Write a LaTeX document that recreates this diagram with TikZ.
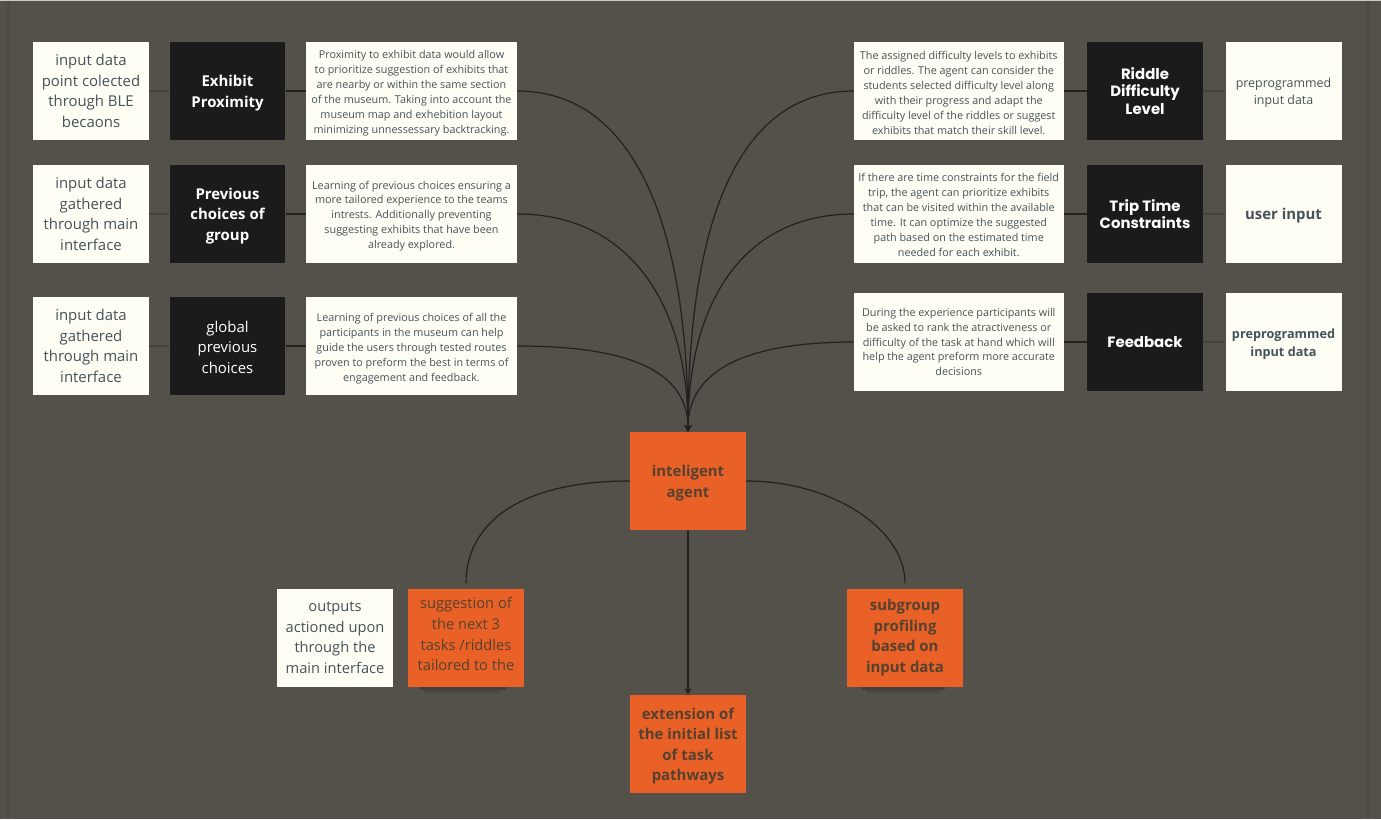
\documentclass[tikz,border=0pt]{standalone}
\usepackage{fontspec}
\setmainfont{Open Sans}
\newfontfamily\headfont{Poppins}
\usetikzlibrary{arrows.meta}
\definecolor{bgc}{HTML}{54504A}
\definecolor{bandc}{HTML}{4F4C46}
\definecolor{paper}{HTML}{FEFEF4}
\definecolor{inkc}{HTML}{45525A}
\definecolor{blackc}{HTML}{1B1B1B}
\definecolor{orangec}{HTML}{E96127}
\definecolor{orink}{HTML}{55412F}
\definecolor{linec}{HTML}{222120}
\definecolor{faintc}{HTML}{45433D}
\newlength{\pxu}\setlength{\pxu}{0.75pt}
\newcommand{\upby}[1]{\rule[-#1]{0pt}{0pt}}
\newcommand{\dnby}[1]{\rule{0pt}{#1}}
\tikzset{
  boxbase/.style={inner sep=0pt,align=center,anchor=center},
  inputbox/.style={boxbase,fill=paper,text=inkc,minimum width=116\pxu,minimum height=98\pxu,
     font=\fontsize{11.2pt}{15.4pt}\selectfont},
  catbox/.style={boxbase,fill=blackc,text=white,minimum width=115.5\pxu,minimum height=98\pxu,
     font=\fontsize{11.2pt}{15.6pt}\selectfont\bfseries},
  cathead/.style={catbox,font=\headfont\fontsize{11.2pt}{13pt}\selectfont\bfseries},
  catplain/.style={catbox,font=\fontsize{11.2pt}{15.4pt}\selectfont},
  descbox/.style={boxbase,fill=paper,text=inkc,minimum height=98\pxu,
     font=\fontsize{8.1pt}{11.15pt}\selectfont},
  orangebox/.style={boxbase,fill=orangec,text=orink,minimum width=116\pxu,minimum height=98\pxu,
     font=\fontsize{11.2pt}{15.4pt}\selectfont\bfseries},
  conn/.style={draw=linec,line width=0.9pt},
  faint/.style={draw=faintc,line width=0.9pt},
  arrowconn/.style={conn,-{Stealth[length=5pt,width=5.5pt]}},
}
\begin{document}
\begin{tikzpicture}[x=0.75pt,y=-0.75pt]
\useasboundingbox (0,0) rectangle (1381,819);
\fill[bgc] (0,0) rectangle (1381,819);
\fill[bandc] (7,0) rectangle (10,819);
\fill[bandc] (1366,0) rectangle (1370,819);
\fill[white!70!bgc] (0,0) rectangle (1381,1.2);
% shadows
\fill[bgc!80!black] (420,687) rectangle (506,690);
\fill[bgc!90!black] (424,690) rectangle (500,693);
\fill[bgc!80!black] (862,687) rectangle (945,690);
\fill[bgc!90!black] (866,690) rectangle (941,693);
% left column
\node[inputbox] (i1) at (91,91) {input data\\point colected\\through BLE\\becaons};
\node[inputbox] (i2) at (91,214) {input data\\gathered\\through main\\interface};
\node[inputbox] (i3) at (91,346) {input data\\gathered\\through main\\interface};
\node[catbox] (c1) at (227.5,91) {\dnby{11.5pt}Exhibit\\Proximity};
\node[catbox] (c2) at (227.5,214) {\dnby{11.5pt}Previous\\choices of\\group};
\node[catplain] (c3) at (227.5,346) {\dnby{10pt}global\\previous\\choices};
\node[descbox,minimum width=211\pxu] (d1) at (411.5,91) {\dnby{9.2pt}Proximity to exhibit data would allow\\to prioritize suggestion of exhibits that\\are nearby or within the same section\\of the museum. Taking into account the\\museum map and exhebition layout\\minimizing unnessessary backtracking.};
\node[descbox,minimum width=211\pxu] (d2) at (411.5,214) {\dnby{9.2pt}Learning of previous choices ensuring a\\more tailored experience to the teams\\intrests. Additionally preventing\\suggesting exhibits that have been\\already explored.};
\node[descbox,minimum width=211\pxu] (d3) at (411.5,346) {\dnby{10pt}Learning of previous choices of all the\\participants in the museum can help\\guide the users through tested routes\\proven to preform the best in terms of\\engagement and feedback.};
% right column
\node[descbox,minimum width=209.5\pxu] (d4) at (958.75,91) {\dnby{9.2pt}The assigned difficulty levels to exhibits\\or riddles. The agent can consider the\\students selected difficulty level along\\with their progress and adapt the\\difficulty level of the riddles or suggest\\exhibits that match their skill level.};
\node[descbox,minimum width=209.5\pxu] (d5) at (958.75,214) {\dnby{7.7pt}If there are time constraints for the field\\trip, the agent can prioritize exhibits\\that can be visited within the available\\time. It can optimize the suggested\\path based on the estimated time\\needed for each exhibit.};
\node[descbox,minimum width=209.5\pxu] (d6) at (958.75,342) {During the experience participants will\\be asked to rank the atractiveness or\\difficulty of the task at hand which will\\help the agent preform more accurate\\decisions};
\node[cathead] (c4) at (1145,91) {Riddle\\Difficulty\\Level};
\node[cathead] (c5) at (1145,214) {Trip Time\\Constraints};
\node[cathead] (c6) at (1145,342) {Feedback};
\node[inputbox,font=\fontsize{9.3pt}{13pt}\selectfont] (i4) at (1283.5,91) {\dnby{10pt}preprogrammed\\input data};
\node[inputbox,font=\fontsize{11.2pt}{15pt}\selectfont\bfseries] (i5) at (1283.5,214) {\dnby{10.5pt}user input};
\node[inputbox,font=\fontsize{9.5pt}{13.4pt}\selectfont\bfseries] (i6) at (1283.5,342) {\dnby{10.2pt}preprogrammed\\input data};
% centre
\node[orangebox] (agent) at (688,481) {\dnby{11.5pt}inteligent\\agent};
\node[inputbox,font=\fontsize{11pt}{15.4pt}\selectfont] (out) at (335,637.5) {outputs\\actioned upon\\through the\\main interface};
\node[orangebox,font=\fontsize{11pt}{15.4pt}\selectfont] (s1) at (466,637.5) {suggestion of\\the next 3\\tasks /riddles\\tailored to the\upby{5pt}};
\node[orangebox] (s2) at (688,744) {\dnby{11.5pt}extension of\\the initial list\\of task\\pathways};
\node[orangebox] (s3) at (905,637.5) {subgroup\\profiling\\based on\\input data\upby{2pt}};
% connectors
\foreach \a/\b in {i1/c1,i2/c2,i3/c3,c4/i4,c5/i5,c6/i6} \draw[faint] (\a) -- (\b);
\foreach \a/\b in {c1/d1,c2/d2,c3/d3,d4/c4,d5/c5,d6/c6} \draw[conn] (\a) -- (\b);
\draw[arrowconn] (d1.east) .. controls +(120,0) and +(0,-200) .. (agent.north);
\draw[arrowconn] (d2.east) .. controls +(110,0) and +(0,-130) .. (agent.north);
\draw[arrowconn] (d3.east) .. controls +(90,0) and +(0,-70) .. (agent.north);
\draw[arrowconn] (d4.west) .. controls +(-120,0) and +(0,-200) .. (agent.north);
\draw[arrowconn] (d5.west) .. controls +(-110,0) and +(0,-130) .. (agent.north);
\draw[arrowconn] (d6.west) .. controls +(-90,0) and +(0,-70) .. (agent.north);
\draw[arrowconn] (agent) -- (s2);
\draw[conn,shorten >=5\pxu] (agent.west) .. controls +(-110,0) and +(0,-65) .. (s1.north);
\draw[conn,shorten >=5\pxu] (agent.east) .. controls +(85,0) and +(0,-60) .. (s3.north);
\end{tikzpicture}
\end{document}
